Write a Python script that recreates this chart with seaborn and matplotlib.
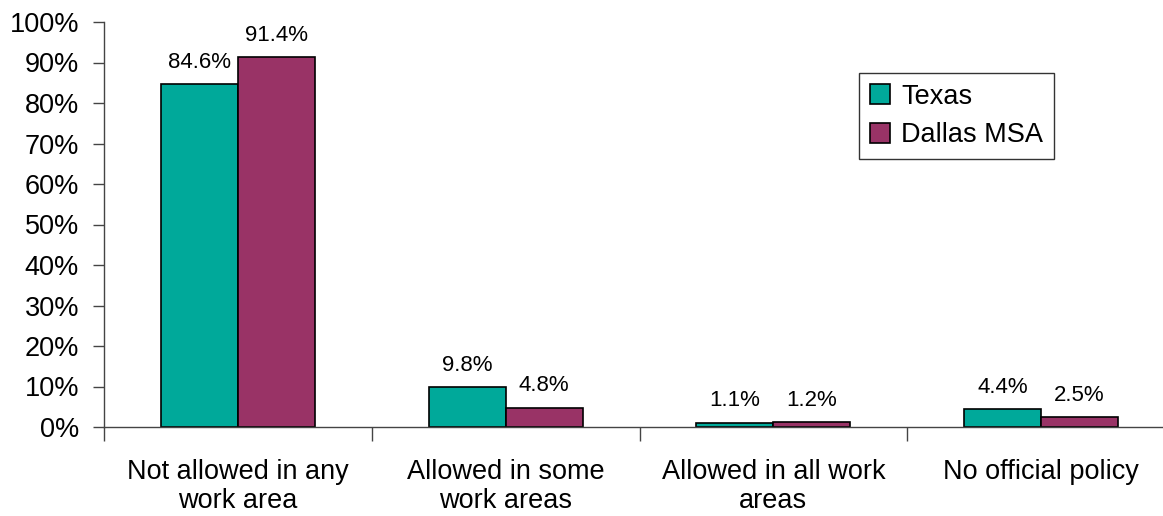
import pandas as pd
import seaborn as sns
import matplotlib.pyplot as plt

# Data
categories = ['Not allowed in any\nwork area', 'Allowed in some\nwork areas',
              'Allowed in all work\nareas', 'No official policy']
series = ['Texas', 'Dallas MSA']
texas = [84.6, 9.8, 1.1, 4.4]
dallas = [91.4, 4.8, 1.2, 2.5]
yticks = list(range(0, 101, 10))

df = pd.DataFrame({
    'category': categories * 2,
    'group': [series[0]] * 4 + [series[1]] * 4,
    'value': texas + dallas,
})

sns.set_style('white')
plt.rcParams['font.family'] = ['Liberation Sans', 'DejaVu Sans']
plt.rcParams['text.color'] = 'black'

fig = plt.figure(figsize=(11.63, 5.16), dpi=100)
ax = fig.add_axes([104 / 1163, 89 / 516, 1071 / 1163, 405 / 516])

sns.barplot(data=df, x='category', y='value', hue='group', order=categories,
            hue_order=series, palette=['#00A99A', '#993366'], width=0.575,
            gap=0, edgecolor='black', linewidth=1.2, saturation=1, ax=ax)

for cont in ax.containers:
    ax.bar_label(cont, fmt='%.1f%%', padding=8, fontsize=16, color='black')

ax.set_xlim(-0.5, 3.5)
ax.set_ylim(0, 100)
ax.set_yticks(yticks)
ax.set_yticklabels([f'{t}%' for t in yticks], fontsize=19.5)
ax.tick_params(axis='y', which='major', direction='out', length=8, width=1,
               color='#444444', labelcolor='black', pad=10, left=True)

# category boundary ticks + centred labels
ax.set_xticks([-0.5, 0.5, 1.5, 2.5, 3.5])
ax.set_xticklabels([])
ax.set_xticks(range(4), minor=True)
ax.set_xticklabels(categories, minor=True, fontsize=19.5)
ax.tick_params(axis='x', which='major', direction='out', length=10, width=1,
               color='#444444', bottom=True)
ax.tick_params(axis='x', which='minor', length=0, pad=23, labelcolor='black')
for lbl in ax.get_xticklabels(minor=True):
    lbl.set_linespacing(1.15)

ax.set_xlabel('')
ax.set_ylabel('')
for s in ['top', 'right']:
    ax.spines[s].set_visible(False)
for s in ['left', 'bottom']:
    ax.spines[s].set_color('#444444')
    ax.spines[s].set_linewidth(1)

leg = ax.legend(loc='upper left', bbox_to_anchor=(0.705, 0.874), borderaxespad=0,
                fontsize=19.5, frameon=True, fancybox=False, edgecolor='black',
                handlelength=0.75, handleheight=0.75, handletextpad=0.4,
                labelspacing=0.45, borderpad=0.4, title=None)
leg.get_frame().set_linewidth(1)
for t in leg.get_texts():
    t.set_color('black')

fig.savefig('out.png', dpi=100)
